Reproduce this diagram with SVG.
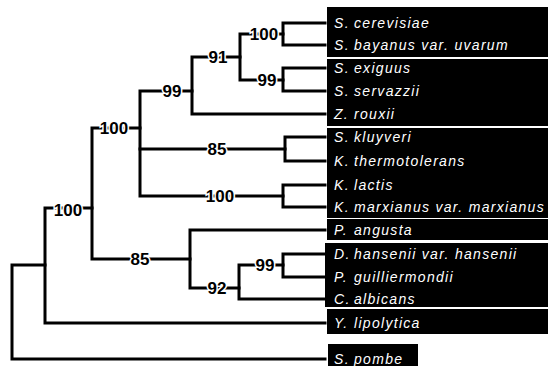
<svg xmlns="http://www.w3.org/2000/svg" width="548" height="367" viewBox="0 0 548 367">
<style>
.br{fill:none;stroke:#000;stroke-width:3;stroke-linecap:square;stroke-linejoin:miter}
.bx{fill:#000}
.sup{font-family:"Liberation Sans",Arial,sans-serif;font-size:17px;font-weight:bold;fill:#000;text-anchor:middle;stroke:#fff;stroke-width:3;paint-order:stroke}
.tx{font-family:"Liberation Sans",Arial,sans-serif;font-size:14px;font-style:italic;fill:#fff;letter-spacing:1.3px}
</style>
<rect width="548" height="367" fill="#fff"/>
<g id="boxes">
<rect class="bx" x="327" y="7" width="221" height="50"/>
<rect class="bx" x="327" y="59" width="221" height="67"/>
<rect class="bx" x="327" y="128" width="221" height="90"/>
<rect class="bx" x="327" y="219" width="221" height="21"/>
<rect class="bx" x="325" y="243" width="223" height="64"/>
<rect class="bx" x="327" y="309" width="221" height="25"/>
<rect class="bx" x="328" y="344" width="90" height="22"/>
</g>
<g id="connectors">
<path class="br" d="M325,23 H283 V45 H325"/>
<path class="br" d="M325,68 H283 V91 H325"/>
<path class="br" d="M283,34 H240 V80 H283"/>
<path class="br" d="M240,57 H192 V114 H325"/>
<path class="br" d="M192,91 H140 V196 H283"/>
<path class="br" d="M325,137 H285 V161 H325"/>
<path class="br" d="M285,149 H140"/>
<path class="br" d="M325,185 H283 V207 H325"/>
<path class="br" d="M140,128 H92 V259 H190"/>
<path class="br" d="M325,230 H190 V288 H239"/>
<path class="br" d="M283,265 H239 V299 H325"/>
<path class="br" d="M325,254 H283 V277 H325"/>
<path class="br" d="M92,208 H45 V323 H325"/>
<path class="br" d="M45,265 H12 V359 H325"/>
</g>
<g id="support">
<text class="sup" x="264" y="40">100</text>
<text class="sup" x="267" y="86">99</text>
<text class="sup" x="218" y="63">91</text>
<text class="sup" x="172" y="97">99</text>
<text class="sup" x="217" y="155">85</text>
<text class="sup" x="220" y="202">100</text>
<text class="sup" x="114" y="134">100</text>
<text class="sup" x="140" y="265">85</text>
<text class="sup" x="217" y="294">92</text>
<text class="sup" x="265" y="271">99</text>
<text class="sup" x="68" y="216">100</text>
</g>
<g id="n1"><text class="tx" x="334" y="28">S.<tspan x="354">cerevisiae</tspan></text></g>
<g id="n2"><text class="tx" x="334" y="50">S.<tspan x="354">bayanus var. uvarum</tspan></text></g>
<g id="n3"><text class="tx" x="334" y="73">S.<tspan x="354">exiguus</tspan></text></g>
<g id="n4"><text class="tx" x="334" y="96">S.<tspan x="354">servazzii</tspan></text></g>
<g id="n5"><text class="tx" x="334" y="119">Z.<tspan x="354">rouxii</tspan></text></g>
<g id="n6"><text class="tx" x="334" y="142">S.<tspan x="354">kluyveri</tspan></text></g>
<g id="n7"><text class="tx" x="334" y="166">K.<tspan x="354">thermotolerans</tspan></text></g>
<g id="n8"><text class="tx" x="334" y="190">K.<tspan x="354">lactis</tspan></text></g>
<g id="n9"><text class="tx" x="334" y="212">K.<tspan x="354">marxianus var. marxianus</tspan></text></g>
<g id="n10"><text class="tx" x="334" y="235">P.<tspan x="354">angusta</tspan></text></g>
<g id="n11"><text class="tx" x="334" y="259">D.<tspan x="354">hansenii var. hansenii</tspan></text></g>
<g id="n12"><text class="tx" x="334" y="282">P.<tspan x="354">guilliermondii</tspan></text></g>
<g id="n13"><text class="tx" x="334" y="304">C.<tspan x="354">albicans</tspan></text></g>
<g id="n14"><text class="tx" x="334" y="328">Y.<tspan x="354">lipolytica</tspan></text></g>
<g id="n15"><text class="tx" x="334" y="364">S.<tspan x="354">pombe</tspan></text></g>
</svg>
